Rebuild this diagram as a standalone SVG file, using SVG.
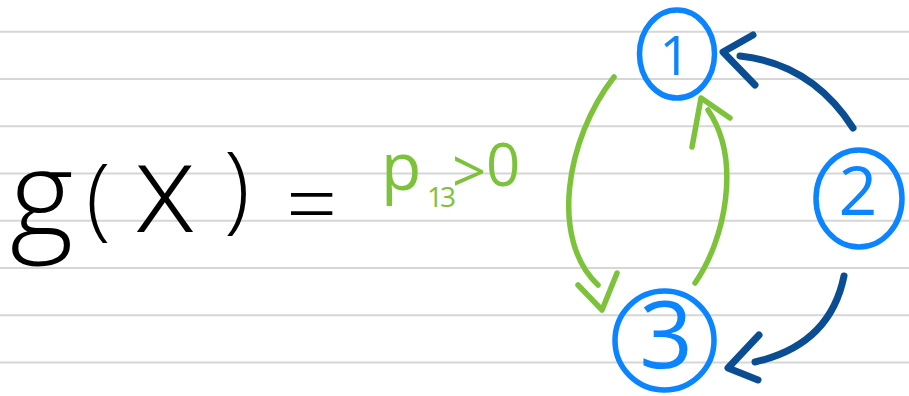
<svg xmlns="http://www.w3.org/2000/svg" width="909" height="396" viewBox="0 0 909 396">
  <style>
    .rule { stroke: #d6d6d6; stroke-width: 2; }
    .ring { fill: none; stroke: #0a84ff; stroke-width: 5.5; }
    .num { fill: #0a84ff; font-family: "Open Sans", "Liberation Sans", sans-serif; font-weight: 400; text-anchor: middle; }
    .ink { fill: #000; font-family: "Open Sans", "Liberation Sans", sans-serif; font-weight: 350; }
    .gr { fill: #7dc23b; font-family: "Open Sans", "Liberation Sans", sans-serif; font-weight: 400; }
    .dk { fill: none; stroke: #0b4d92; stroke-width: 7; stroke-linecap: round; stroke-linejoin: round; }
    .gn { fill: none; stroke: #7dc23b; stroke-width: 5.5; stroke-linecap: round; stroke-linejoin: round; }
  </style>
  <rect width="909" height="396" fill="#ffffff"/>
  <g id="paper-lines">
    <line class="rule" x1="0" y1="31.7" x2="909" y2="31.7"/>
    <line class="rule" x1="0" y1="79" x2="909" y2="79"/>
    <line class="rule" x1="0" y1="126.2" x2="909" y2="126.2"/>
    <line class="rule" x1="0" y1="173.5" x2="909" y2="173.5"/>
    <line class="rule" x1="0" y1="220.7" x2="909" y2="220.7"/>
    <line class="rule" x1="0" y1="268" x2="909" y2="268"/>
    <line class="rule" x1="0" y1="315.2" x2="909" y2="315.2"/>
    <line class="rule" x1="0" y1="362.5" x2="909" y2="362.5"/>
  </g>
  <g id="formula">
    <text class="ink"><tspan x="10" y="237" font-size="122">g</tspan><tspan x="86" y="229" font-size="90">(</tspan><tspan x="134" y="232" font-size="125">x</tspan><tspan x="224" y="221" font-size="95">)</tspan> <tspan x="286" y="236" font-size="90">=</tspan></text>
  </g>
  <g id="label-p13">
    <text class="gr"><tspan x="381" y="190" font-size="66">p</tspan><tspan x="427" y="207" font-size="28" letter-spacing="-3">13</tspan><tspan x="452" y="193" font-size="60">&gt;</tspan><tspan x="486" y="186" font-size="60">0</tspan></text>
  </g>
  <g id="node-1">
    <ellipse class="ring" cx="677" cy="54" rx="37.5" ry="44"/>
    <text class="num" x="675" y="75" font-size="54">1</text>
  </g>
  <g id="node-2">
    <ellipse class="ring" cx="859" cy="198.5" rx="43" ry="48.5"/>
    <text class="num" x="858" y="215" font-size="68">2</text>
  </g>
  <g id="node-3">
    <ellipse class="ring" cx="664.5" cy="340.5" rx="49.5" ry="49.5"/>
    <text class="num" x="666" y="368" font-size="94">3</text>
  </g>
  <g id="connectors">
    <path class="dk" d="M853,128 Q812,64 740,56"/>
    <polyline class="dk" points="753,35 723,52 755,85"/>
    <path class="dk" d="M844,276 Q830,345 755,362"/>
    <polyline class="dk" points="759,335 728,368 758,380"/>
    <path class="gn" d="M614,77 C565,140 550,240 598,285"/>
    <polyline class="gn" points="578,285 602,310 617,273"/>
    <path class="gn" d="M695,283 C725,240 742,160 708,110"/>
    <polyline class="gn" points="692,147 701,98 730,118"/>
  </g>
</svg>
